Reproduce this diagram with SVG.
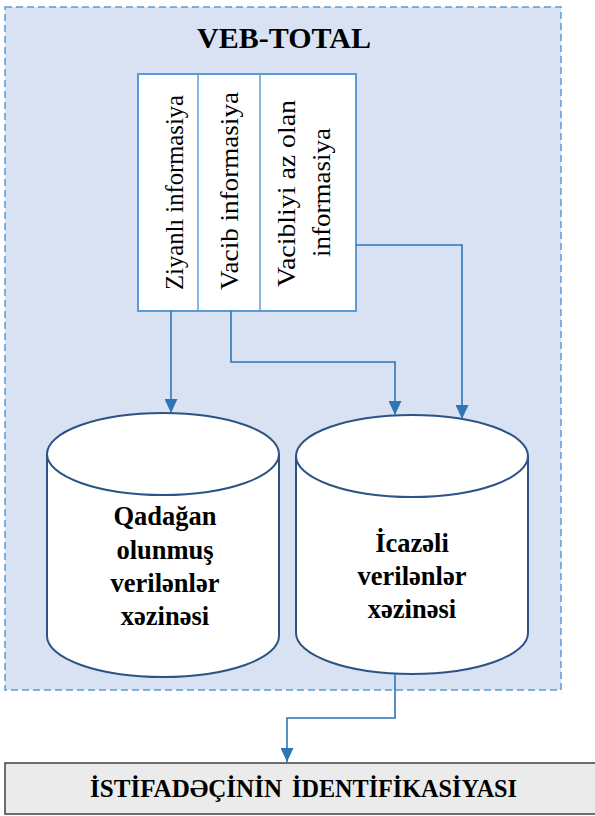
<svg xmlns="http://www.w3.org/2000/svg" width="595" height="816" viewBox="0 0 595 816">
<defs>
<style>
.serif{font-family:"Liberation Serif","Times New Roman",serif;fill:#000}
.b{font-weight:bold}
.col{font-size:26px}
.cyl{font-size:26.5px;font-weight:bold;text-anchor:middle}
.db{fill:#fff;stroke:#2b5485;stroke-width:2}
.conn{fill:none;stroke:#2e75b6;stroke-width:1.6}
</style>
<marker id="ah" markerUnits="userSpaceOnUse" markerWidth="14" markerHeight="13" refX="14" refY="6.5" orient="auto">
<path d="M0,0 L14,6.5 L0,13 z" fill="#2e75b6"/>
</marker>
</defs>
<rect width="595" height="816" fill="#fff"/>
<g id="veb-total">
<rect x="5" y="7" width="556" height="683" fill="#d9e2f3" stroke="#5b9bd5" stroke-width="1.5" stroke-dasharray="7,4"/>
<text class="serif b" x="284" y="48" font-size="30" text-anchor="middle">VEB-TOTAL</text>
</g>
<g id="info-table">
<rect x="138" y="74" width="218" height="237" fill="#fff" stroke="#5b9bd5" stroke-width="2"/>
<line x1="198" y1="74" x2="198" y2="311" stroke="#5b9bd5" stroke-width="1.5"/>
<line x1="260" y1="74" x2="260" y2="311" stroke="#5b9bd5" stroke-width="1.5"/>
<text class="serif col" transform="translate(183,192.5) rotate(-90)" text-anchor="middle" textLength="195" lengthAdjust="spacingAndGlyphs">Ziyanlı informasiya</text>
<text class="serif col" transform="translate(238,191) rotate(-90)" text-anchor="middle" textLength="198" lengthAdjust="spacingAndGlyphs">Vacib informasiya</text>
<text class="serif col" transform="translate(295,193.5) rotate(-90)" text-anchor="middle" textLength="187" lengthAdjust="spacingAndGlyphs">Vacibliyi az olan</text>
<text class="serif col" transform="translate(330,192.5) rotate(-90)" text-anchor="middle" textLength="129" lengthAdjust="spacingAndGlyphs">informasiya</text>
</g>
<g id="db-forbidden">
<path class="db" d="M47,454 V636 A116,41 0 0 0 279,636 V454"/>
<ellipse class="db" cx="163" cy="454" rx="116" ry="41"/>
<text class="serif cyl" x="165" y="525">Qadağan</text>
<text class="serif cyl" x="165" y="559">olunmuş</text>
<text class="serif cyl" x="165" y="592">verilənlər</text>
<text class="serif cyl" x="165" y="625">xəzinəsi</text>
</g>
<g id="db-allowed">
<path class="db" d="M296,456 V633 A116,41 0 0 0 528,633 V456"/>
<ellipse class="db" cx="412" cy="456" rx="116" ry="41"/>
<text class="serif cyl" x="412" y="552">İcazəli</text>
<text class="serif cyl" x="412" y="585">verilənlər</text>
<text class="serif cyl" x="412" y="618">xəzinəsi</text>
</g>
<g id="identification">
<rect x="5" y="763" width="600" height="51" fill="#ebebeb" stroke="#404040" stroke-width="1.5"/>
<text class="serif b" x="90" y="797" font-size="25" textLength="192" lengthAdjust="spacingAndGlyphs">İSTİFADƏÇİNİN</text>
<text class="serif b" x="292" y="797" font-size="25" textLength="225" lengthAdjust="spacingAndGlyphs">İDENTİFİKASİYASI</text>
</g>
<g id="connectors">
<path class="conn" d="M171,311 V413" marker-end="url(#ah)"/>
<path class="conn" d="M231,311 V362 H395 V415" marker-end="url(#ah)"/>
<path class="conn" d="M356,245 H462 V419" marker-end="url(#ah)"/>
<path class="conn" d="M395,674 V718 H287 V762" marker-end="url(#ah)"/>
</g>
</svg>
